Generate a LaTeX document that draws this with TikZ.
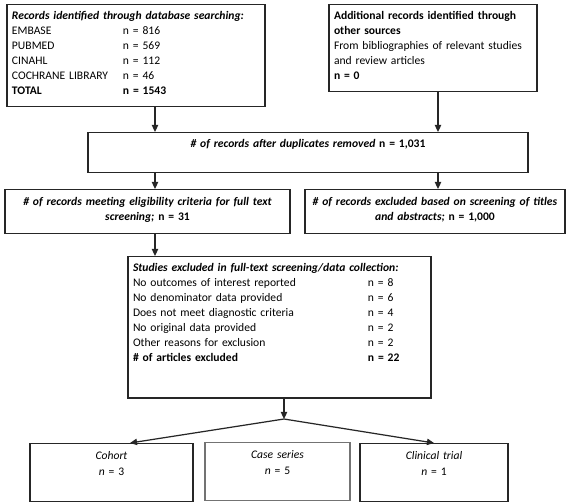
\documentclass[tikz,border=0pt]{standalone}
\usepackage{fontspec}
\setmainfont{Carlito}
\usepackage{tikz}
\usetikzlibrary{arrows.meta, positioning, calc}
\tikzset{
  flowbox/.style={
    draw=black!85, line width=0.7pt, fill=white, anchor=north,
    inner xsep=0.1cm, inner ysep=0pt,
    font=\fontsize{6.6}{8.6}\selectfont
  },
  flowarrow/.style={
    -{Triangle[length=4pt,width=3.6pt]}, line width=0.7pt, color=black!85
  },
}
\newcommand{\countrow}[3]{\makebox[#1][l]{#2}#3}

\begin{document}
\begin{tikzpicture}
  \useasboundingbox (0,0) rectangle (11.34,10.06);

  % Database search
  \node[flowbox, align=left, text width=4.96cm, text height=8.2pt,
    text depth=49.6pt] (db) at (2.72,9.98) {
    \textbf{\textit{Records identified through database searching:}}\\
    \countrow{2.22cm}{EMBASE}{n = 816}\\
    \countrow{2.22cm}{PUBMED}{n = 569}\\
    \countrow{2.22cm}{CINAHL}{n = 112}\\
    \countrow{2.22cm}{COCHRANE LIBRARY}{n = 46}\\
    \textbf{\countrow{2.22cm}{TOTAL}{n = 1543}}
  };

  % Other sources
  \node[flowbox, align=left, text width=3.96cm, text height=8.2pt,
    text depth=41.1pt] (other) at (8.66,9.98) {
    \textbf{Additional records identified through}\\
    \textbf{other sources}\\
    From bibliographies of relevant studies\\
    and review articles\\
    \textbf{n = 0}
  };

  % After duplicates
  \node[flowbox, align=center, text width=8.6cm, text height=8.2pt,
    text depth=14.5pt] (dup) at (6.16,7.42) {
    \textbf{\textit{\# of records after duplicates removed}} \textbf{n = 1,031}
  };

  % Screening
  \node[flowbox, align=center, text width=5.5cm, text height=8.8pt,
    text depth=16.2pt] (elig) at (2.95,6.28) {
    \textbf{\textit{\# of records meeting eligibility criteria for full text}}\\
    \textbf{\textit{screening;}} \textbf{n = 31}
  };
  \node[flowbox, align=center, text width=5.0cm, text height=8.8pt,
    text depth=16.2pt] (excl) at (8.70,6.28) {
    \textbf{\textit{\# of records excluded based on screening of titles}}\\
    \textbf{\textit{and abstracts;}} \textbf{n = 1,000}
  };

  % Full-text exclusions
  \node[flowbox, align=left, text width=5.86cm, text height=8.2pt,
    text depth=72.3pt] (studies) at (5.59,4.94) {
    \textbf{\textit{Studies excluded in full-text screening/data collection:}}\\
    \countrow{4.7cm}{No outcomes of interest reported}{n = 8}\\
    \countrow{4.7cm}{No denominator data provided}{n = 6}\\
    \countrow{4.7cm}{Does not meet diagnostic criteria}{n = 4}\\
    \countrow{4.7cm}{No original data provided}{n = 2}\\
    \countrow{4.7cm}{Other reasons for exclusion}{n = 2}\\
    \textbf{\countrow{4.7cm}{\# of articles excluded}{n = 22}}
  };

  % Study designs
  \node[flowbox, align=center, text width=3.06cm, text height=8.8pt,
    text depth=24.1pt] (cohort) at (2.23,1.20) {
    \textit{Cohort}\\[1pt] \textit{n} = 3
  };
  \node[flowbox, draw=black!55, align=center, text width=2.70cm,
    text height=8.8pt, text depth=24.1pt] (caseser) at (5.55,1.22) {
    \textit{Case series}\\[1pt] \textit{n} = 5
  };
  \node[flowbox, align=center, text width=2.76cm, text height=8.8pt,
    text depth=24.1pt] (clinical) at (8.68,1.20) {
    \textit{Clinical trial}\\[1pt] \textit{n} = 1
  };

  % Connectors
  \coordinate (colL) at (3.10,0);
  \coordinate (colR) at (8.76,0);
  \coordinate (split) at (5.68,1.68);
  \coordinate (cohortin) at (2.60,0);
  \draw[flowarrow] (colL |- db.south) -- (colL |- dup.north);
  \draw[flowarrow] (colR |- other.south) -- (colR |- dup.north);
  \draw[flowarrow] (colL |- dup.south) -- (colL |- elig.north);
  \draw[flowarrow] (colR |- dup.south) -- (colR |- excl.north);
  \draw[flowarrow] (colL |- elig.south) -- (colL |- studies.north);
  \draw[flowarrow] (split |- studies.south) -- (split);
  \draw[flowarrow] (split) -- (cohortin |- cohort.north);
  \draw[flowarrow] (split) -- (clinical.north);
\end{tikzpicture}
\end{document}
